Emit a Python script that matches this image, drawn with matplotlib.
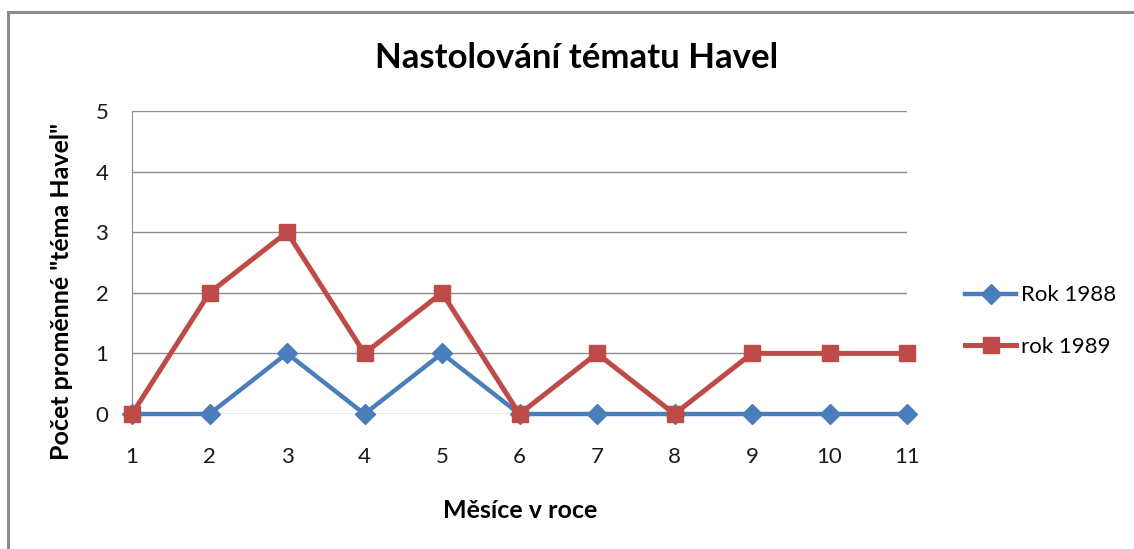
import matplotlib.pyplot as plt
from matplotlib.patches import Rectangle

months = [1, 2, 3, 4, 5, 6, 7, 8, 9, 10, 11]
rok_1988 = [0, 0, 1, 0, 1, 0, 0, 0, 0, 0, 0]
rok_1989 = [0, 2, 3, 1, 2, 0, 1, 0, 1, 1, 1]
series_names = ["Rok 1988", "rok 1989"]

plt.rcParams['font.family'] = ['Lato', 'DejaVu Sans']

fig = plt.figure(figsize=(11.34, 5.49), dpi=100)

# outer chart frame (Excel style)
fig.patches.append(Rectangle((8 / 1134, -0.1), 1.2, (549 - 12) / 549 + 0.1,
                             transform=fig.transFigure, fill=False,
                             edgecolor='#8c8c8c', linewidth=2.2))

ax = fig.add_axes([132 / 1134, (549 - 414) / 549, 775 / 1134, 303 / 549])

ax.plot(months, rok_1988, color='#4a7ebb', linewidth=3.2, marker='D',
        markersize=10, label=series_names[0], zorder=3, clip_on=False)
ax.plot(months, rok_1989, color='#be4b48', linewidth=3.6, marker='s',
        markersize=12, label=series_names[1], zorder=4, clip_on=False)

ax.set_xlim(1, 11)
ax.set_ylim(0, 5)
ax.set_xticks(months)
ax.set_yticks(range(6))
ax.grid(axis='y', color='#8c8c8c', linewidth=1)
ax.set_axisbelow(True)
for s in ['top', 'right', 'bottom']:
    ax.spines[s].set_visible(False)
ax.spines['left'].set_color('#8c8c8c')
ax.tick_params(length=0, labelsize=16, colors='#1a1a1a')
ax.tick_params(axis='x', pad=24)
ax.tick_params(axis='y', pad=17)

fig.text(577 / 1134, 1 - 58 / 549, "Nastolování tématu Havel", ha='center',
         va='center', fontsize=25, fontweight='bold')
fig.text(62 / 1134, 1 - 291 / 549, 'Počet proměnné "téma Havel"', ha='center',
         va='center', rotation=90, fontsize=18, fontweight='bold')
fig.text(520 / 1134, 1 - 511 / 549, "Měsíce v roce", ha='center',
         va='center', fontsize=18, fontweight='bold')

fig.legend(loc='center left', bbox_to_anchor=(945 / 1134, 1 - 321 / 549),
           frameon=False, fontsize=16, handlelength=2.3, labelspacing=1.4,
           handletextpad=0.2)

fig.savefig("out.png", dpi=100)
